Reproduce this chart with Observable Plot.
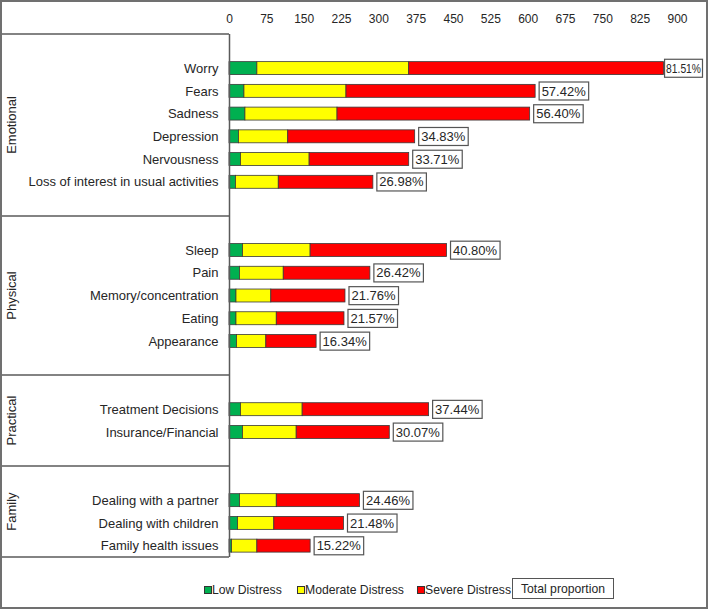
<!DOCTYPE html>
<html>
<head>
<meta charset="utf-8">
<script src="https://cdn.jsdelivr.net/npm/d3@7"></script>
<script src="https://cdn.jsdelivr.net/npm/@observablehq/plot@0.6"></script>
<style>
  body { margin: 0; background: #fff; font-family: "Liberation Sans", Arial, sans-serif; }
  #wrap { position: relative; width: 709px; height: 610px; overflow: hidden; background: #fff; }
  #chart { position: absolute; left: 0; top: 0; }
  #frame { position: absolute; left: 0; top: 0; width: 708px; height: 609px; border: 2px solid #707070; box-sizing: border-box; pointer-events: none; }
  .sw { position: absolute; width: 6px; height: 6px; border: 1px solid #333; top: 586px; }
  .lt { position: absolute; top: 582px; line-height: 16px; font-size: 12.2px; color: #262626; white-space: nowrap; }
  .box { position: absolute; left: 512px; top: 578px; width: 102px; height: 21px; border: 1px solid #555; box-sizing: border-box; display: flex; align-items: center; justify-content: center; font-size: 12.2px; color: #262626; }
</style>
</head>
<body>
<div id="wrap">
  <div id="chart"></div>
  <div id="legend"></div>
  <div id="frame"></div>
</div>
<script>
const categories = ["Worry", "Fears", "Sadness", "Depression", "Nervousness", "Loss of interest in usual activities",
  "Sleep", "Pain", "Memory/concentration", "Eating", "Appearance",
  "Treatment Decisions", "Insurance/Financial",
  "Dealing with a partner", "Dealing with children", "Family health issues"];
const groupOf = ["Emotional", "Emotional", "Emotional", "Emotional", "Emotional", "Emotional",
  "Physical", "Physical", "Physical", "Physical", "Physical",
  "Practical", "Practical",
  "Family", "Family", "Family"];
const groupNames = ["Emotional", "Physical", "Practical", "Family"];
const low      = [56, 30, 32, 19, 23, 13, 27, 21, 14, 14, 15, 23, 27, 21, 17, 5];
const moderate = [305, 205, 185, 99, 138, 86, 136, 88, 70, 81, 59, 124, 108, 74, 73, 51];
const severe   = [512, 380, 387, 255, 200, 190, 274, 174, 149, 136, 101, 254, 187, 167, 140, 107];
const totalLabels = ["81.51%", "57.42%", "56.40%", "34.83%", "33.71%", "26.98%",
  "40.80%", "26.42%", "21.76%", "21.57%", "16.34%",
  "37.44%", "30.07%", "24.46%", "21.48%", "15.22%"];
const levels = ["Low Distress", "Moderate Distress", "Severe Distress"];
const levelColors = ["#00b050", "#ffff00", "#ff0000"];
const xTicks = [0, 75, 150, 225, 300, 375, 450, 525, 600, 675, 750, 825, 900];
const legendTotalText = "Total proportion";

// build y domain with blank slots separating groups
const yDomain = [];
groupNames.forEach((g, gi) => {
  if (gi === 0) yDomain.push("_top");
  else { yDomain.push(`_gap${gi}a`); yDomain.push(`_gap${gi}b`); }
  categories.forEach((c, i) => { if (groupOf[i] === g) yDomain.push(c); });
});

const series = [low, moderate, severe];
const rows = [];
categories.forEach((c, i) => levels.forEach((l, li) => rows.push({category: c, level: l, value: series[li][i]})));
const totals = categories.map((c, i) => ({category: c, total: low[i] + moderate[i] + severe[i], label: totalLabels[i]}));

const PIN = 0.43;
const plot = Plot.plot({
  width: 709,
  height: 575,
  marginLeft: 229,
  marginRight: 32,
  marginTop: 34,
  marginBottom: 18,
  style: {fontFamily: "'Liberation Sans', Arial, sans-serif", fontSize: "13px", color: "#262626", background: "transparent"},
  x: {domain: [0, 900]},
  y: {domain: yDomain, paddingInner: PIN, paddingOuter: PIN / 2, align: 0.5, round: false, axis: null},
  color: {domain: levels, range: levelColors},
  marks: [
    Plot.axisX(xTicks, {anchor: "top", tickSize: 0, tickPadding: 12, fontSize: 12, fill: "#262626"}),
    Plot.barX(rows, {x: "value", y: "category", fill: "level", stroke: "#3a3a3a", strokeWidth: 0.8}),
    Plot.ruleX([0], {stroke: "#5a5a5a", strokeWidth: 1.5}),
    Plot.text(categories, {y: d => d, text: d => d, frameAnchor: "left", dx: -11, textAnchor: "end", fontSize: 13, fill: "#262626"}),
    Plot.text(totals, {x: "total", y: "category", text: "label", textAnchor: "start", dx: 6, fontSize: 13, fill: "#262626"})
  ]
});
document.getElementById("chart").append(plot);

// decorations from the plot's scales
const svg = d3.select(plot);
const ys = plot.scale("y");
const xs = plot.scale("x");
const step = ys.step;
const slotStart = k => ys.apply(k) - PIN * step / 2;
const x0 = xs.apply(0);
const bounds = [ys.range[0]];
groupNames.forEach((g, gi) => { if (gi > 0) bounds.push(slotStart(`_gap${gi}b`)); });
bounds.push(ys.range[1]);
const deco = svg.append("g");
bounds.forEach(b => deco.append("line").attr("x1", 0).attr("x2", x0).attr("y1", b).attr("y2", b)
  .attr("stroke", "#5a5a5a").attr("stroke-width", 1.5));
groupNames.forEach((g, gi) => {
  const mid = (bounds[gi] + bounds[gi + 1]) / 2;
  deco.append("text").attr("transform", `translate(15.5,${mid}) rotate(-90)`)
    .attr("text-anchor", "middle").attr("font-size", 13).attr("fill", "#262626").text(g);
});

// boxes behind the percentage labels
const limit = 704;
const pctSet = new Set(totalLabels);
svg.selectAll("text").filter(function () { return pctSet.has(this.textContent); }).each(function () {
  let pad = 2.5;
  let bb = this.getBBox();
  const svgRect = plot.getBoundingClientRect();
  const absLeft = this.getBoundingClientRect().left - svgRect.left;
  let bx = bb.x - pad, bw = bb.width + 2 * pad;
  if (absLeft - pad + bw > limit) {
    pad = 1.5;
    const shift = 4;
    const newW = limit - (absLeft - shift) - 2 * pad;
    this.setAttribute("textLength", newW);
    this.setAttribute("lengthAdjust", "spacingAndGlyphs");
    this.setAttribute("x", (+this.getAttribute("x") || 0) - shift);
    bb = this.getBBox();
    bx = bb.x - pad;
    bw = newW + 2 * pad;
  }
  const cy = bb.y + bb.height / 2;
  const r = document.createElementNS("http://www.w3.org/2000/svg", "rect");
  r.setAttribute("x", bx); r.setAttribute("y", cy - 9);
  r.setAttribute("width", bw); r.setAttribute("height", 18);
  r.setAttribute("fill", "#fff"); r.setAttribute("stroke", "#555"); r.setAttribute("stroke-width", 1.2);
  const tr = this.getAttribute("transform");
  if (tr) r.setAttribute("transform", tr);
  this.parentNode.insertBefore(r, this);
});

// legend
const legend = document.getElementById("legend");
const swX = [204, 297, 417];
levels.forEach((l, i) => {
  const s = document.createElement("div");
  s.className = "sw"; s.style.left = swX[i] + "px"; s.style.background = levelColors[i];
  legend.append(s);
  const t = document.createElement("div");
  t.className = "lt"; t.style.left = (swX[i] + 8) + "px"; t.textContent = l;
  legend.append(t);
});
const box = document.createElement("div");
box.className = "box"; box.textContent = legendTotalText;
legend.append(box);
</script>
</body>
</html>
